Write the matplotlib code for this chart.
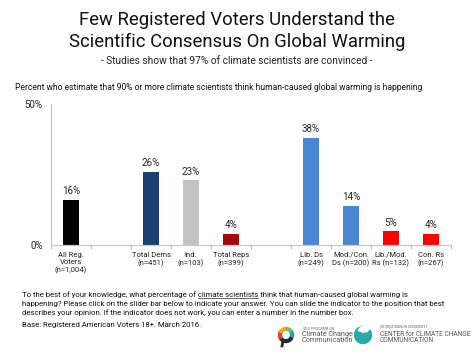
import numpy as np
import matplotlib
matplotlib.use('Agg')
import matplotlib.pyplot as plt
from matplotlib.patches import Wedge, Circle

plt.rcParams['font.family'] = ['Roboto', 'DejaVu Sans']

# data
labels = ['All Reg.\nVoters\n(n=1,004)', '', 'Total Dems\n(n=451)', 'Ind.\n(n=103)',
          'Total Reps\n(n=399)', '', 'Lib. Ds\n(n=249)', 'Mod./Con.\nDs (n=200)',
          'Lib./Mod.\nRs (n=132)', 'Con. Rs\n(n=267)']
values = [16, None, 26, 23, 4, None, 38, 14, 5, 4]
colors = ['#000000', None, '#1c3f72', '#c3c3c3', '#a50a0a', None,
          '#4a85d3', '#4a85d3', '#ff0000', '#ff0000']

W, H = 474, 355
fig = plt.figure(figsize=(W / 100, H / 100), dpi=100)

def fx(px):
    return px / W

def fy(py):
    return 1 - py / H

# titles
fig.text(0.5, fy(20), 'Few Registered Voters Understand the', ha='center', va='center',
         fontsize=13.3, color='#111111')
fig.text(0.5, fy(42), 'Scientific Consensus On Global Warming', ha='center', va='center',
         fontsize=13.3, color='#111111')
fig.text(0.5, fy(60.5), '- Studies show that 97% of climate scientists are convinced -',
         ha='center', va='center', fontsize=7.3, color='#222222')
fig.text(fx(15), fy(87), 'Percent who estimate that 90% or more climate scientists think '
         'human-caused global warming is happening', ha='left', va='center',
         fontsize=6.15, color='#111111')

ax = fig.add_axes([fx(51), fy(245), fx(400), (245 - 104) / H])
x = np.arange(len(labels))
for i, v in enumerate(values):
    if v is None:
        continue
    ax.bar(x[i], v, width=0.4, color=colors[i])
    ax.text(x[i], v + 1.2, f'{v}%', ha='center', va='bottom', fontsize=7, color='#222222')

ax.set_xlim(-0.5, len(labels) - 0.5)
ax.set_ylim(0, 50)
ax.set_yticks([0, 50])
ax.set_yticklabels(['0%', '50%'], fontsize=7, color='#222222')
ax.tick_params(axis='y', length=0, pad=6)
ax.set_xticks(np.arange(len(labels) + 1) - 0.5)
ax.set_xticklabels([])
ax.set_xticks(x, minor=True)
ax.set_xticklabels(labels, minor=True, fontsize=5.5, color='#222222', linespacing=1.2)
ax.tick_params(axis='x', which='major', length=3, color='#bbbbbb', width=0.8)
ax.tick_params(axis='x', which='minor', length=0, pad=5)
for s in ['top', 'right']:
    ax.spines[s].set_visible(False)
for s in ['left', 'bottom']:
    ax.spines[s].set_color('#c8c8c8')
    ax.spines[s].set_linewidth(0.9)

# footnote
fs = 5.6
line1_pre = 'To the best of your knowledge, what percentage of '
line1 = line1_pre + 'climate scientists think that human-caused global warming is'
fig.text(fx(22), fy(295), line1, ha='left', va='center', fontsize=fs, color='#111111')
fig.text(fx(22), fy(303.7), 'happening? Please click on the slider bar below to indicate your answer. '
         'You can slide the indicator to the position that best', ha='left', va='center',
         fontsize=fs, color='#111111')
fig.text(fx(22), fy(312.4), 'describes your opinion. If the indicator does not work, you can '
         'enter a number in the number box.', ha='left', va='center', fontsize=fs, color='#111111')
fig.text(fx(22), fy(325.5), 'Base: Registered American Voters 18+. March 2016.', ha='left',
         va='center', fontsize=fs, color='#111111')

# underline "climate scientists"
fig.canvas.draw()
r = fig.canvas.get_renderer()
tmp1 = fig.text(fx(22), fy(295), line1_pre, ha='left', va='center', fontsize=fs)
tmp2 = fig.text(fx(22), fy(295), line1_pre + 'climate scientists', ha='left', va='center', fontsize=fs)
x0 = tmp1.get_window_extent(r).x1
x1 = tmp2.get_window_extent(r).x1
tmp1.remove()
tmp2.remove()
fig.add_artist(plt.Line2D([x0 / W, x1 / W], [fy(297.9), fy(297.9)], color='#111111', lw=0.45))

# logos
yale_c = (286, 335)
seg_cols = ['#2b2b2b', '#e8412c', '#f7a823', '#7fc14b', '#19a3c9', '#2b2b2b']
lax = fig.add_axes([0, 0, 1, 1], facecolor='none')
lax.set_xlim(0, W)
lax.set_ylim(H, 0)
lax.set_aspect('equal')
lax.axis('off')
for k, c in enumerate(seg_cols):
    lax.add_patch(Wedge(yale_c, 7.5, k * 60 + 90, (k + 1) * 60 + 90, width=2.8, color=c))
lax.plot([283, 282], [341, 346], color='#2b2b2b', lw=2)
lax.text(302, 328.5, 'YALE PROGRAM ON', fontsize=2.6, color='#666666', va='center')
lax.text(302, 334, 'Climate Change', fontsize=5.2, color='#555555', va='center')
lax.text(302, 341, 'Communication', fontsize=5.2, color='#555555', va='center')

gmu_c = (363, 335)
lax.add_patch(Circle(gmu_c, 8.5, color='#28a9a5'))
for k in range(4):
    lax.add_patch(Wedge((gmu_c[0] + 2, gmu_c[1] - 2), 7 - k * 1.6, 200, 320, width=0.6, color='white'))
lax.text(380, 327.5, 'GEORGE MASON UNIVERSITY', fontsize=2.6, color='#666666', va='center')
lax.text(380, 334, 'CENTER for CLIMATE CHANGE', fontsize=4.8, color='#555555', va='center')
lax.text(380, 341, 'COMMUNICATION', fontsize=4.8, color='#555555', va='center')

fig.savefig('out.png', dpi=100)
